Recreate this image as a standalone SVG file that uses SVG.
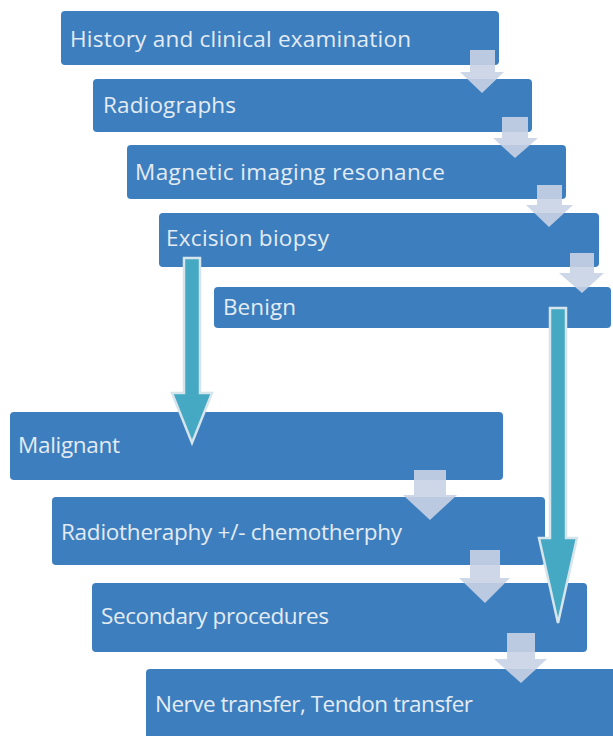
<svg xmlns="http://www.w3.org/2000/svg" width="613" height="736" viewBox="0 0 613 736">
<style>
.box{fill:#3d7ebf;}
.lbl{font-family:"Open Sans","Noto Sans","Liberation Sans",sans-serif;font-size:22.5px;fill:#e3ebf3;}
.step{fill:#c9d3e4;fill-opacity:0.9;}
.big{fill:#45a9c4;stroke:#d6e4ec;stroke-width:2.5;stroke-linejoin:miter;}
</style>
<rect width="613" height="736" fill="#ffffff"/>
<g id="n1"><rect class="box" x="61" y="11" width="438" height="54" rx="4"/><text class="lbl" x="70" y="47" textLength="341">History and clinical examination</text></g>
<g id="n2"><rect class="box" x="93" y="79" width="439" height="53" rx="4"/><text class="lbl" x="103" y="113" textLength="133">Radiographs</text></g>
<g id="n3"><rect class="box" x="127" y="145" width="439" height="54" rx="4"/><text class="lbl" x="135" y="180" textLength="310">Magnetic imaging resonance</text></g>
<g id="n4"><rect class="box" x="159" y="213" width="440" height="54" rx="4"/><text class="lbl" x="166" y="246" textLength="163">Excision biopsy</text></g>
<g id="n5"><rect class="box" x="214" y="287" width="397" height="41" rx="4"/><text class="lbl" x="223" y="315" textLength="73">Benign</text></g>
<g id="n6"><rect class="box" x="10" y="412" width="493" height="68" rx="4"/><text class="lbl" x="18" y="453" textLength="102">Malignant</text></g>
<g id="n7"><rect class="box" x="52" y="497" width="493" height="68" rx="4"/><text class="lbl" x="61" y="540" textLength="341">Radiotheraphy +/- chemotherphy</text></g>
<g id="n8"><rect class="box" x="92" y="583" width="495" height="69" rx="4"/><text class="lbl" x="101" y="624" textLength="228">Secondary procedures</text></g>
<g id="n9"><rect class="box" x="146" y="669" width="472" height="75" rx="4"/><text class="lbl" x="155" y="712" textLength="318">Nerve transfer, Tendon transfer</text></g>
<g id="connectors">
<path class="step" d="M470,50 H495 V72 H504 L482,93 L460,72 H470 Z"/>
<path class="step" d="M502,117 H528 V138 H538 L515,158 L493,138 H502 Z"/>
<path class="step" d="M537,185 H562 V205 H573 L549,227 L526,205 H537 Z"/>
<path class="step" d="M570,253 H594 V273 H604 L582,293 L559,273 H570 Z"/>
<path class="step" d="M414,470 H446 V495 H457 L430,520 L403,495 H414 Z"/>
<path class="step" d="M470,550 H500 V578 H510 L485,603 L459,578 H470 Z"/>
<path class="step" d="M507,633 H535 V659 H547 L521,683 L494,659 H507 Z"/>
<path class="big" d="M184,258 H200 V393 H212 L192,443 L172,393 H184 Z"/>
<path class="big" d="M550,308 H566 V538 H577 L558,623 L539,538 H550 Z"/>
</g>
</svg>
